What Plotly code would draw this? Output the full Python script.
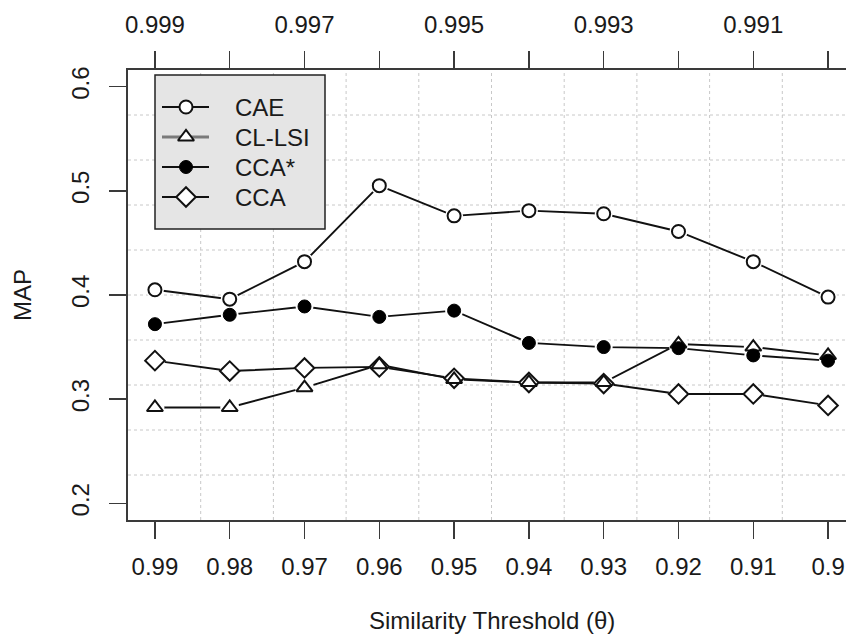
import plotly.graph_objects as go

# ---------------- data ----------------
thresholds = [0.99, 0.98, 0.97, 0.96, 0.95, 0.94, 0.93, 0.92, 0.91, 0.90]
bottom_tick_labels = ["0.99", "0.98", "0.97", "0.96", "0.95", "0.94", "0.93", "0.92", "0.91", "0.9"]
top_tick_labels = ["0.999", "", "0.997", "", "0.995", "", "0.993", "", "0.991", ""]
y_ticks = [0.2, 0.3, 0.4, 0.5, 0.6]
y_tick_labels = ["0.2", "0.3", "0.4", "0.5", "0.6"]

cae = [0.405, 0.396, 0.432, 0.505, 0.476, 0.481, 0.478, 0.461, 0.432, 0.398]
cl_lsi = [0.292, 0.292, 0.311, 0.333, 0.319, 0.316, 0.316, 0.353, 0.350, 0.342]
cca_star = [0.372, 0.381, 0.389, 0.379, 0.385, 0.354, 0.350, 0.349, 0.342, 0.337]
cca = [0.337, 0.327, 0.330, 0.331, 0.320, 0.316, 0.315, 0.305, 0.305, 0.294]

series_names = ["CAE", "CL-LSI", "CCA*", "CCA"]
series_values = [cae, cl_lsi, cca_star, cca]

# ---------------- styling ----------------
W, H = 846, 635
R_LEFT_PX, R_RIGHT_PX = 128, 855   # R plot region (pixels); right edge lies past the figure
R_TOP_PX, R_BOTTOM_PX = 70, 520
L, T = R_LEFT_PX, R_TOP_PX
B = H - R_BOTTOM_PX
FONT = "Liberation Sans, Arial, sans-serif"
FS = 24
TXT = "#1a1a1a"
FRAME = "#3a3a3a"

# R-style usr range (4% padding)
x_usr = [max(thresholds) + 0.04 * (max(thresholds) - min(thresholds)),
         min(thresholds) - 0.04 * (max(thresholds) - min(thresholds))]
y_usr = [0.2 - 0.04 * 0.4, 0.6 + 0.04 * 0.4]
x_range = [x_usr[0], x_usr[0] + (x_usr[1] - x_usr[0]) * (W - R_LEFT_PX) / (R_RIGHT_PX - R_LEFT_PX)]

styles = {
    "CAE": dict(symbol="circle-open", size=13, filled=False),
    "CL-LSI": dict(symbol="triangle-up-open", size=14, filled=False),
    "CCA*": dict(symbol="circle", size=13, filled=True),
    "CCA": dict(symbol="diamond-open", size=15, filled=False),
}
solid_of = {"circle-open": "circle", "triangle-up-open": "triangle-up",
            "diamond-open": "diamond", "circle": "circle"}

fig = go.Figure()

# lines
for name, vals in zip(series_names, series_values):
    fig.add_trace(go.Scatter(x=thresholds, y=vals, mode="lines",
                             line=dict(color="#111", width=1.9),
                             showlegend=False, hoverinfo="skip"))
# white knock-out (R type="b" gaps)
for name, vals in zip(series_names, series_values):
    st = styles[name]
    fig.add_trace(go.Scatter(x=thresholds, y=vals, mode="markers",
                             marker=dict(symbol="circle", size=st["size"] + 5,
                                         color="white", line=dict(width=0)),
                             showlegend=False, hoverinfo="skip"))
# marker outlines
for name, vals in zip(series_names, series_values):
    st = styles[name]
    if st["filled"]:
        mk = dict(symbol="circle", size=st["size"], color="#000",
                  line=dict(color="#000", width=1))
    else:
        mk = dict(symbol=st["symbol"], size=st["size"], color="#111",
                  line=dict(color="#111", width=2))
    fig.add_trace(go.Scatter(x=thresholds, y=vals, mode="markers", marker=mk,
                             name=name, showlegend=False))

# dummy trace so the top axis is drawn
fig.add_trace(go.Scatter(x=[thresholds[0]], y=[cae[0]], xaxis="x2", mode="markers",
                         marker=dict(opacity=0), showlegend=False, hoverinfo="skip"))

# ---------------- grid (R grid(): 10 equal cells of the plot region) ----------------
shapes = []
for k in range(1, 10):
    gx = x_usr[0] + k * (x_usr[1] - x_usr[0]) / 10
    shapes.append(dict(type="line", xref="x", yref="paper", x0=gx, x1=gx, y0=0, y1=1,
                       line=dict(color="#c8c8c8", width=1, dash="dot"), layer="below"))
    gy = y_usr[0] + k * (y_usr[1] - y_usr[0]) / 10
    shapes.append(dict(type="line", xref="paper", yref="y", x0=0, x1=1, y0=gy, y1=gy,
                       line=dict(color="#c8c8c8", width=1, dash="dot"), layer="below"))

# ---------------- manual legend (pixel coordinates via overlay axes) ----------------
LEG_BOX = dict(x0=155, x1=325, y0=75, y1=229)
LEG_ROWS = [107, 137, 167, 197]
LEG_LINE = (162, 209)
LEG_MARK = 186
LEG_TEXT = 233
shapes.append(dict(type="rect", xref="x3", yref="y3", **LEG_BOX,
                   fillcolor="#e5e5e5", line=dict(color="#222", width=1.5), layer="below"))

annotations = []
for name, ly in zip(series_names, LEG_ROWS):
    st = styles[name]
    lcol = "#7a7a7a" if name == "CL-LSI" else "#111"
    lw = 3 if name == "CL-LSI" else 1.9
    fig.add_trace(go.Scatter(x=list(LEG_LINE), y=[ly, ly], xaxis="x3", yaxis="y3",
                             mode="lines", line=dict(color=lcol, width=lw),
                             showlegend=False, hoverinfo="skip"))
    if st["filled"]:
        mk = dict(symbol="circle", size=st["size"], color="#000", line=dict(color="#000", width=1))
    else:
        mk = dict(symbol=solid_of[st["symbol"]], size=st["size"], color="white",
                  line=dict(color="#111", width=2))
    fig.add_trace(go.Scatter(x=[LEG_MARK], y=[ly], xaxis="x3", yaxis="y3", mode="markers",
                             marker=mk, showlegend=False, hoverinfo="skip"))
    annotations.append(dict(xref="x3", yref="y3", x=LEG_TEXT, y=ly, text=name,
                            showarrow=False, xanchor="left", yanchor="middle",
                            font=dict(family=FONT, size=FS, color=TXT)))

# axis titles
plot_w = W - L
annotations.append(dict(xref="paper", yref="paper",
                        x=((R_LEFT_PX + R_RIGHT_PX) / 2 - R_LEFT_PX) / plot_w, y=0,
                        yshift=-100, xanchor="center", yanchor="middle", showarrow=False,
                        text="Similarity Threshold (θ)", font=dict(family=FONT, size=FS, color=TXT)))
annotations.append(dict(xref="paper", yref="paper", x=0, y=0.5, xshift=-(R_LEFT_PX - 22),
                        xanchor="center", yanchor="middle", showarrow=False, textangle=-90,
                        text="MAP", font=dict(family=FONT, size=FS, color=TXT)))

tickfont = dict(family=FONT, size=FS, color=TXT)
fig.update_layout(
    width=W, height=H,
    margin=dict(l=L, r=0, t=T, b=B, pad=0),
    paper_bgcolor="white", plot_bgcolor="white",
    showlegend=False,
    xaxis=dict(range=x_range, tickvals=thresholds, ticktext=bottom_tick_labels,
               ticks="outside", ticklen=17, tickwidth=1.5, tickcolor=FRAME,
               showline=True, linecolor=FRAME, linewidth=2, showgrid=False, zeroline=False,
               tickfont=tickfont, ticklabelstandoff=7, ticklabeloverflow="allow"),
    xaxis2=dict(range=x_range, overlaying="x", side="top", anchor="y",
                tickvals=thresholds, ticktext=top_tick_labels,
                ticks="outside", ticklen=17, tickwidth=1.5, tickcolor=FRAME,
                showline=True, linecolor=FRAME, linewidth=2, showgrid=False, zeroline=False,
                tickfont=tickfont, ticklabelstandoff=8),
    yaxis=dict(range=y_usr, tickvals=y_ticks, ticktext=y_tick_labels, tickangle=-90,
               ticks="outside", ticklen=17, tickwidth=1.5, tickcolor=FRAME,
               showline=True, linecolor=FRAME, linewidth=2, showgrid=False, zeroline=False,
               tickfont=tickfont, ticklabelstandoff=10),
    xaxis3=dict(range=[R_LEFT_PX, W], overlaying="x", anchor="y3", visible=False),
    yaxis3=dict(range=[R_BOTTOM_PX, R_TOP_PX], overlaying="y", anchor="x3", visible=False),
    shapes=shapes,
    annotations=annotations,
)

fig.write_html("out.html",
               config={"displayModeBar": False, "staticPlot": True},
               post_script="document.body.style.margin='0';"
                           "document.body.style.overflow='hidden';"
                           "document.documentElement.style.overflow='hidden';")
